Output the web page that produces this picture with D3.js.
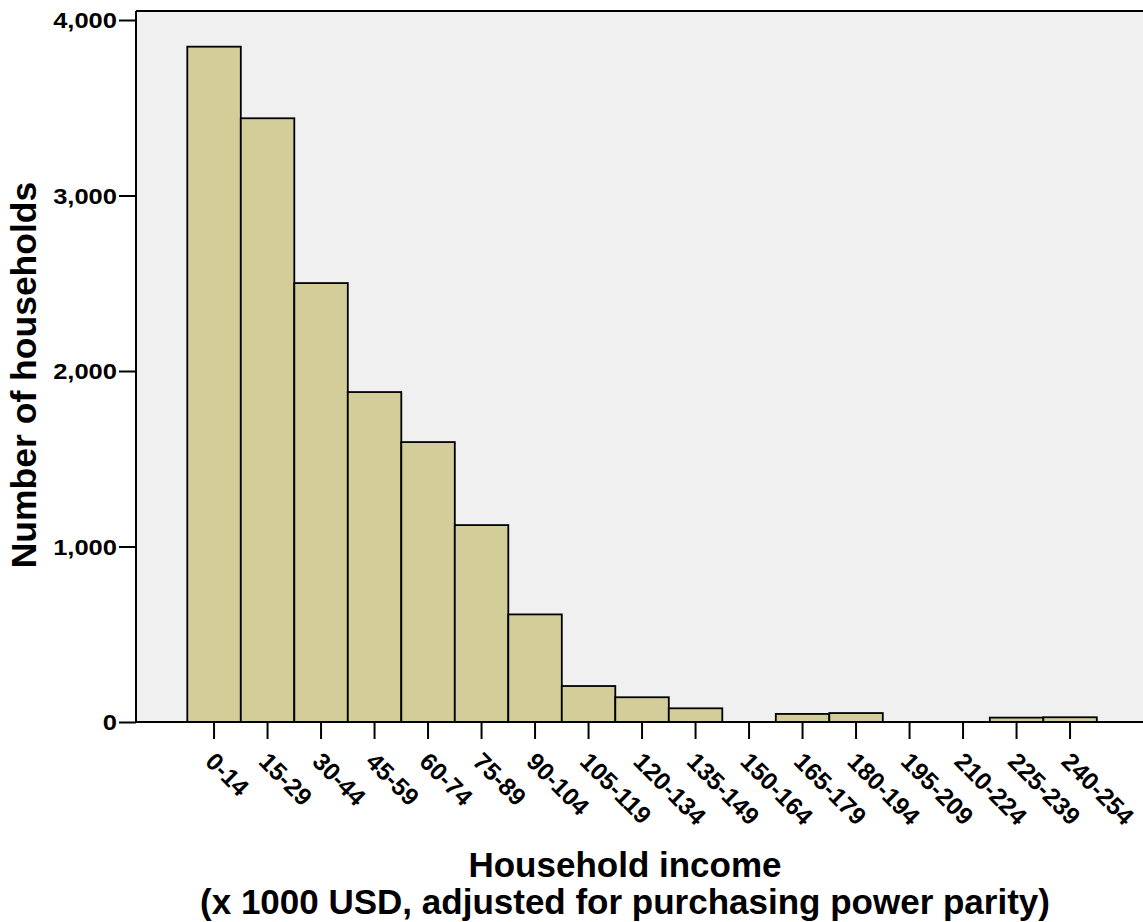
<!DOCTYPE html>
<html>
<head>
<meta charset="utf-8">
<script src="https://cdn.jsdelivr.net/npm/d3@7"></script>
<style>
  html, body { margin: 0; padding: 0; background: #ffffff; }
  svg { display: block; font-family: "Liberation Sans", Arial, sans-serif; font-weight: bold; }
</style>
</head>
<body>
<svg id="chart" width="1143" height="922"></svg>
<script>
const categories = ["0-14","15-29","30-44","45-59","60-74","75-89","90-104","105-119","120-134","135-149","150-164","165-179","180-194","195-209","210-224","225-239","240-254"];
const households = [3848, 3440, 2501, 1880, 1595, 1122, 613, 205, 141, 78, 0, 46, 51, 0, 0, 25, 27];
const yTicks = [0, 1000, 2000, 3000, 4000];
const yTitle = "Number of households";
const xTitleLines = ["Household income", "(x 1000 USD, adjusted for purchasing power parity)"];

const W = 1143, H = 922;
const plot = { left: 136, top: 11, right: 1145, bottom: 722 };

const svg = d3.select("#chart");

const x = d3.scaleBand().domain(categories).range([187.3, 1096.8]).padding(0);
const y = d3.scaleLinear().domain([0, 4000]).range([722, 20]);

// plot background
svg.append("rect")
  .attr("x", plot.left).attr("y", plot.top)
  .attr("width", plot.right - plot.left).attr("height", plot.bottom - plot.top)
  .attr("fill", "#f0f0f0");

// bars
svg.append("g").selectAll("rect")
  .data(categories.map((c, i) => ({ c, v: households[i] })))
  .join("rect")
  .attr("x", d => x(d.c))
  .attr("y", d => y(d.v))
  .attr("width", x.bandwidth())
  .attr("height", d => y(0) - y(d.v))
  .attr("fill", "#d3ce99")
  .attr("stroke", "#000")
  .attr("stroke-width", 1.8);

// frame line (top)
svg.append("line").attr("x1", plot.left).attr("x2", plot.right).attr("y1", plot.top).attr("y2", plot.top)
  .attr("stroke", "#000").attr("stroke-width", 2);

// y axis
const yAxis = d3.axisLeft(y).tickValues(yTicks).tickSize(17).tickPadding(3).tickFormat(d3.format(","));
const gy = svg.append("g").attr("transform", `translate(${plot.left},0)`).call(yAxis);
gy.select(".domain").attr("d", `M0,${plot.top}V${plot.bottom}`).attr("stroke", "#000").attr("stroke-width", 2);
gy.selectAll(".tick line").attr("stroke", "#000").attr("stroke-width", 2);
gy.selectAll(".tick text").attr("fill", "#000")
  .style("font-size", "22px").style("font-weight", "bold")
  .style("font-family", "'Liberation Sans', Arial, sans-serif")
  .attr("x", -16.4).attr("dy", "0.36em")
  .attr("transform", "scale(1.16,1)");

// x axis
const xAxis = d3.axisBottom(x).tickSize(17).tickFormat(d => d);
const gx = svg.append("g").attr("transform", `translate(0,${plot.bottom})`).call(xAxis);
gx.select(".domain").attr("d", `M${plot.left},0H${plot.right}`).attr("stroke", "#000").attr("stroke-width", 2);
gx.selectAll(".tick line").attr("stroke", "#000").attr("stroke-width", 2);
gx.selectAll(".tick text")
  .attr("fill", "#000")
  .style("font-size", "24.5px").style("font-weight", "bold")
  .style("font-family", "'Liberation Sans', Arial, sans-serif")
  .attr("text-anchor", "start")
  .attr("dy", null).attr("y", null)
  .attr("transform", "translate(-10,41) rotate(45)");

// y title
svg.append("text")
  .attr("transform", "translate(36,375) rotate(-90)")
  .attr("text-anchor", "middle")
  .style("font-size", "35.5px")
  .attr("fill", "#000")
  .text(yTitle);

// x title
svg.append("text")
  .attr("x", 625).attr("y", 877)
  .attr("text-anchor", "middle")
  .style("font-size", "35px")
  .attr("fill", "#000")
  .text(xTitleLines[0]);
svg.append("text")
  .attr("x", 625).attr("y", 914)
  .attr("text-anchor", "middle")
  .style("font-size", "35px")
  .attr("fill", "#000")
  .text(xTitleLines[1]);
</script>
</body>
</html>
